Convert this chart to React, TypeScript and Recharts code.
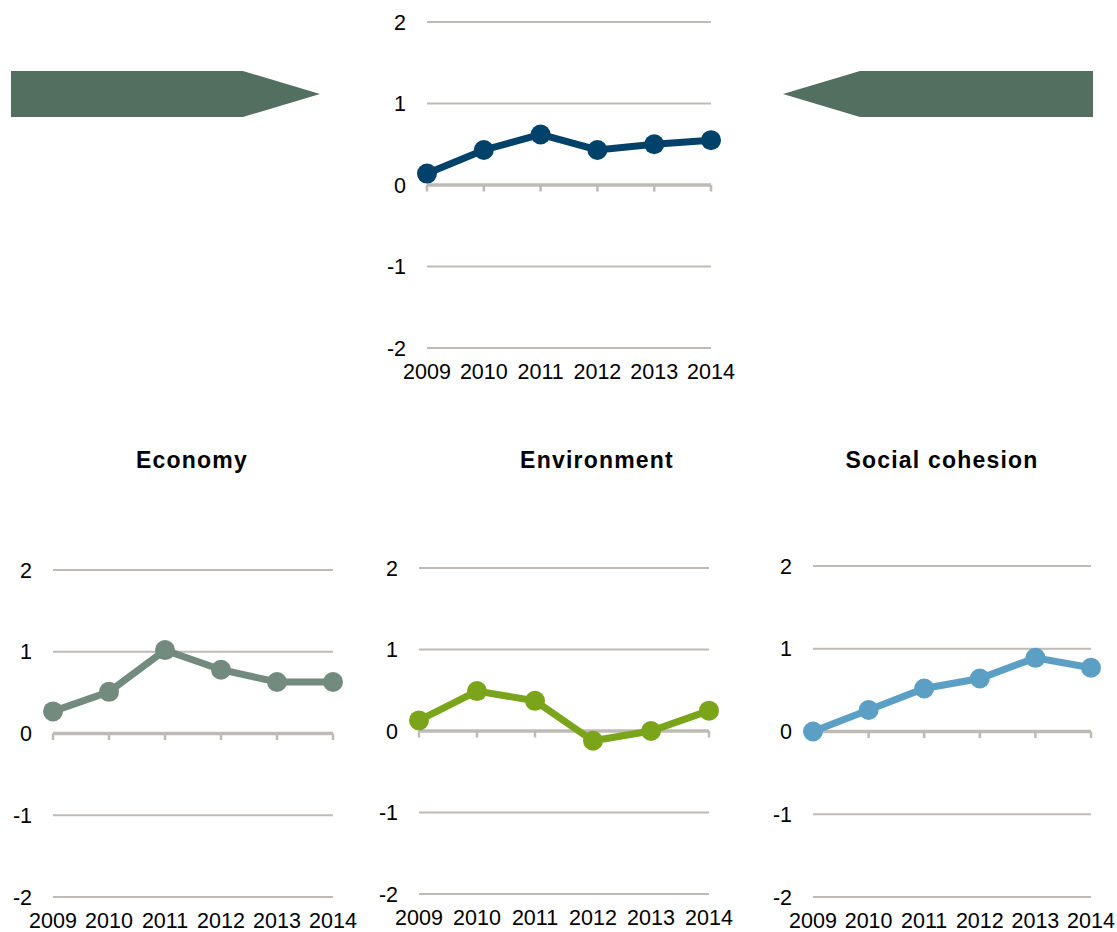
import React from 'react';
import { LineChart, Line, XAxis, YAxis, CartesianGrid, ReferenceLine } from 'recharts';

// ---- data ----
const years = ['2009', '2010', '2011', '2012', '2013', '2014'];
const yTicks = [-2, -1, 0, 1, 2];
const overall = [0.14, 0.43, 0.62, 0.43, 0.5, 0.55];
const economy = [0.27, 0.51, 1.02, 0.78, 0.63, 0.63];
const environment = [0.13, 0.49, 0.37, -0.12, 0.0, 0.25];
const socialCohesion = [0.0, 0.26, 0.52, 0.64, 0.89, 0.77];
const titles = ['Economy', 'Environment', 'Social cohesion'];

const FONT = '"Liberation Sans", Arial, sans-serif';
const GRID = '#BFBAB5';

type Plot = { left: number; right: number; top: number; bottom: number };

function Panel({ plot, values, color }: { plot: Plot; values: number[]; color: string }) {
  const yw = 60;
  const mt = 15;
  const mr = 25;
  const xh = 45;
  const width = yw + (plot.right - plot.left) + mr;
  const height = mt + (plot.bottom - plot.top) + xh;
  const data = years.map((y, i) => ({ year: y, value: values[i] }));
  return (
    <div style={{ position: 'absolute', left: plot.left - yw, top: plot.top - mt }}>
      <LineChart width={width} height={height} data={data} margin={{ top: mt, right: mr, bottom: 0, left: 0 }}>
        <CartesianGrid vertical={false} stroke={GRID} strokeWidth={2} />
        <XAxis
          dataKey="year"
          axisLine={false}
          tickLine={false}
          tickSize={0}
          tickMargin={16}
          interval={0}
          height={xh}
          tick={{ fontSize: 21.5, fill: '#000', fontFamily: FONT }}
        />
        <YAxis
          type="number"
          domain={[-2, 2]}
          ticks={yTicks}
          axisLine={false}
          tickLine={false}
          tickSize={0}
          tickMargin={21}
          width={yw}
          tick={{ fontSize: 21.5, fill: '#000', fontFamily: FONT }}
        />
        <ReferenceLine y={0} stroke={GRID} strokeWidth={3.5} />
        {years.map((y) => (
          <ReferenceLine
            key={y}
            segment={[
              { x: y, y: 0 },
              { x: y, y: -0.08 },
            ]}
            stroke={GRID}
            strokeWidth={2.5}
          />
        ))}
        <Line
          type="linear"
          dataKey="value"
          stroke={color}
          strokeWidth={7}
          dot={{ r: 10, fill: color, stroke: color, strokeWidth: 0 }}
          activeDot={false}
          isAnimationActive={false}
        />
      </LineChart>
    </div>
  );
}

export default function App() {
  return (
    <div
      style={{
        position: 'absolute',
        left: 0,
        top: 0,
        width: 1117,
        height: 932,
        overflow: 'hidden',
        background: '#fff',
        fontFamily: FONT,
      }}
    >
      <svg width={1117} height={932} style={{ position: 'absolute', left: 0, top: 0 }}>
        <polygon points="11,71 243,71 320,94 243,117 11,117" fill="#526F5F" />
        <polygon points="1093,71 860,71 783,94 860,117 1093,117" fill="#526F5F" />
        {titles.map((t, i) => (
          <text
            key={t}
            x={[192, 597, 942][i]}
            y={468}
            textAnchor="middle"
            fontFamily={FONT}
            fontWeight="bold"
            fontSize={23}
            letterSpacing={1.2}
            fill="#000"
          >
            {t}
          </text>
        ))}
      </svg>
      <Panel plot={{ left: 427, right: 711, top: 22, bottom: 348 }} values={overall} color="#00426A" />
      <Panel plot={{ left: 53, right: 333, top: 570, bottom: 897 }} values={economy} color="#728B7E" />
      <Panel plot={{ left: 419, right: 709, top: 568, bottom: 894 }} values={environment} color="#7AA51A" />
      <Panel plot={{ left: 813, right: 1091, top: 566, bottom: 897 }} values={socialCohesion} color="#5B9FC4" />
    </div>
  );
}
